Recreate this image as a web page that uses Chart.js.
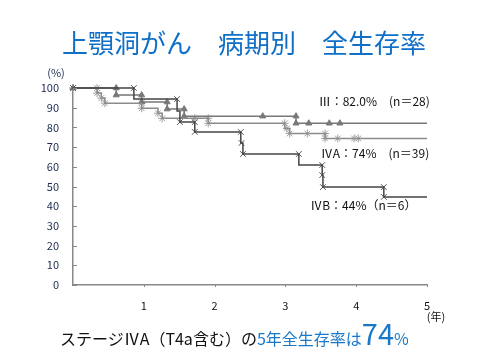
<!DOCTYPE html>
<html><head><meta charset="utf-8">
<script src="https://cdn.jsdelivr.net/npm/chart.js@4"></script>
<style>
html,body{margin:0;padding:0;background:#fff;}
#wrap{position:relative;width:480px;height:360px;overflow:hidden;font-family:"Noto Sans CJK JP","Noto Sans",sans-serif;}
#title{position:absolute;left:4px;width:480px;top:24px;text-align:center;font-size:26px;color:#1070c8;line-height:36px;white-space:nowrap;}
#caption{position:absolute;left:60px;top:314px;font-size:16px;line-height:36px;color:#111;white-space:nowrap;}
#caption .b{color:#1a78c8;}
#caption .big{font-size:29px;}
canvas{position:absolute;left:0;top:0;}
</style>
</head><body>
<div id="wrap">
<canvas id="c" width="480" height="360"></canvas>
<div id="title">上顎洞がん　病期別　全生存率</div>
<div id="caption">ステージⅣA（T4a含む）の<span class="b">5年全生存率は<span class="big">74</span>%</span></div>
</div>
<script>
// Step curves (years, overall survival %)
const iiiT = [0, 0.61, 0.97, 1.33, 1.57, 3.15, 5];
const iiiS = [100, 96.4, 92.9, 89.3, 85.7, 82.1, 82.1];
const ivaT = [0, 0.34, 0.40, 0.45, 0.97, 1.20, 1.26, 1.91, 2.99, 3.06, 3.56, 5];
const ivaS = [100, 97.4, 94.9, 92.3, 89.7, 87.2, 84.6, 82.1, 79.5, 76.9, 74.4, 74.4];
const ivbT = [0, 0.86, 1.47, 1.51, 1.72, 2.37, 2.40, 3.19, 3.52, 3.53, 4.39, 5];
const ivbS = [100, 94.4, 88.3, 82.7, 77.7, 72.1, 66.5, 60.9, 55.8, 49.7, 44.7, 44.7];
// Marker positions
const iiiMarkT = [0, 0.61, 0.61, 0.97, 0.97, 1.33, 1.33, 1.57, 1.57, 2.68, 3.15, 3.15, 3.33, 3.62, 3.77];
const iiiMarkS = [100, 100, 96.4, 96.4, 92.9, 92.9, 89.3, 89.3, 85.7, 85.7, 85.7, 82.1, 82.1, 82.1, 82.1];
const ivaMarkT = [0, 0.34, 0.34, 0.40, 0.45, 0.97, 0.97, 1.20, 1.26, 1.72, 1.91, 1.91, 2.99, 3.02, 3.06, 3.31, 3.56, 3.56, 3.74, 3.97, 4.03];
const ivaMarkS = [100, 100, 97.4, 94.9, 92.3, 92.3, 89.7, 87.2, 84.6, 84.6, 84.6, 82.1, 82.1, 79.5, 76.9, 76.9, 76.9, 74.4, 74.4, 74.4, 74.4];
const ivbMarkT = [0, 0.86, 1.47, 1.51, 1.72, 1.72, 2.37, 2.38, 2.40, 3.19, 3.52, 3.52, 3.53, 4.39, 4.39];
const ivbMarkS = [100, 100, 94.4, 82.7, 82.7, 77.7, 77.7, 72.1, 66.5, 66.5, 60.9, 55.8, 49.7, 49.7, 44.7];
// Labels
const seriesLabels = ['Ⅲ：82.0%　(n＝28)', 'ⅣA：74%　(n＝39)', 'ⅣB：44%（n＝6）'];
const labelT = [3.47, 3.50, 3.35];
const labelS = [93.4, 67.0, 40.6];
const xTickLabels = ['', '1', '2', '3', '4', '5'];
const yUnit = '(%)';
const xUnit = '(年)';

const pts = (t, s) => t.map((v, i) => ({x: v, y: s[i]}));

const extras = {
  id: 'extras',
  afterDraw(chart) {
    const {ctx, chartArea: a, scales: {x, y}} = chart;
    ctx.save();
    ctx.strokeStyle = '#888'; ctx.lineWidth = 1;
    y.ticks.forEach(t => {
      const py = Math.round(y.getPixelForValue(t.value)) + 0.5;
      ctx.beginPath(); ctx.moveTo(a.left, py); ctx.lineTo(a.left + 4, py); ctx.stroke();
    });
    x.ticks.forEach(t => {
      if (t.value === 0) return;
      const px = Math.round(x.getPixelForValue(t.value)) + 0.5;
      ctx.beginPath(); ctx.moveTo(px, a.bottom); ctx.lineTo(px, a.bottom + 2); ctx.stroke();
    });
    ctx.font = '12px "Noto Sans CJK JP", sans-serif';
    ctx.fillStyle = '#111';
    ctx.textBaseline = 'middle';
    ctx.textAlign = 'left';
    seriesLabels.forEach((s, i) => {
      ctx.fillText(s, x.getPixelForValue(labelT[i]), y.getPixelForValue(labelS[i]));
    });
    ctx.font = '11px "Noto Sans CJK JP", sans-serif';
    ctx.textAlign = 'center';
    ctx.fillStyle = '#1a2b4c';
    ctx.fillText(yUnit, a.left - 17, a.top - 15);
    ctx.fillStyle = '#111';
    ctx.fillText(xUnit, a.right + 9, a.bottom + 32);
    ctx.restore();
  }
};

new Chart(document.getElementById('c'), {
  type: 'line',
  data: {
    datasets: [
      {data: pts(ivbT, ivbS), stepped: 'before', borderColor: '#444', borderWidth: 1.5, pointRadius: 0, clip: false},
      {data: pts(iiiT, iiiS), stepped: 'before', borderColor: '#777', borderWidth: 1.5, pointRadius: 0, clip: false},
      {data: pts(ivaT, ivaS), stepped: 'before', borderColor: '#8c8c8c', borderWidth: 1.5, pointRadius: 0, clip: false},
      {data: pts(ivbMarkT, ivbMarkS), showLine: false, pointStyle: 'crossRot', pointRadius: 4, borderColor: '#555', borderWidth: 1, clip: false},
      {data: pts(iiiMarkT, iiiMarkS), showLine: false, pointStyle: 'triangle', pointRadius: 3.5, borderColor: '#7a7a7a', backgroundColor: '#7a7a7a', borderWidth: 1, clip: false},
      {data: pts(ivaMarkT, ivaMarkS), showLine: false, pointStyle: 'star', pointRadius: 4, borderColor: '#a0a0a0', borderWidth: 1, clip: false}
    ]
  },
  options: {
    responsive: false,
    animation: false,
    layout: {padding: {top: 88, right: 53, left: 0, bottom: 0}},
    plugins: {legend: {display: false}, tooltip: {enabled: false}, title: {display: false}},
    scales: {
      x: {
        type: 'linear', min: 0, max: 5,
        ticks: {stepSize: 1, color: '#111', padding: 14, font: {size: 11, family: '"Noto Sans CJK JP", sans-serif'},
          callback: v => xTickLabels[v]},
        grid: {display: false, drawTicks: false},
        border: {color: '#888', width: 1.5},
        afterFit: s => { s.height = 75; }
      },
      y: {
        min: 0, max: 100,
        ticks: {stepSize: 10, color: '#1a2b4c', padding: 14, font: {size: 11, family: '"Noto Sans CJK JP", sans-serif'}},
        grid: {display: false, drawTicks: false},
        border: {color: '#888', width: 1.5},
        afterFit: s => { s.width = 73; }
      }
    }
  },
  plugins: [extras]
});
</script>
</body></html>
